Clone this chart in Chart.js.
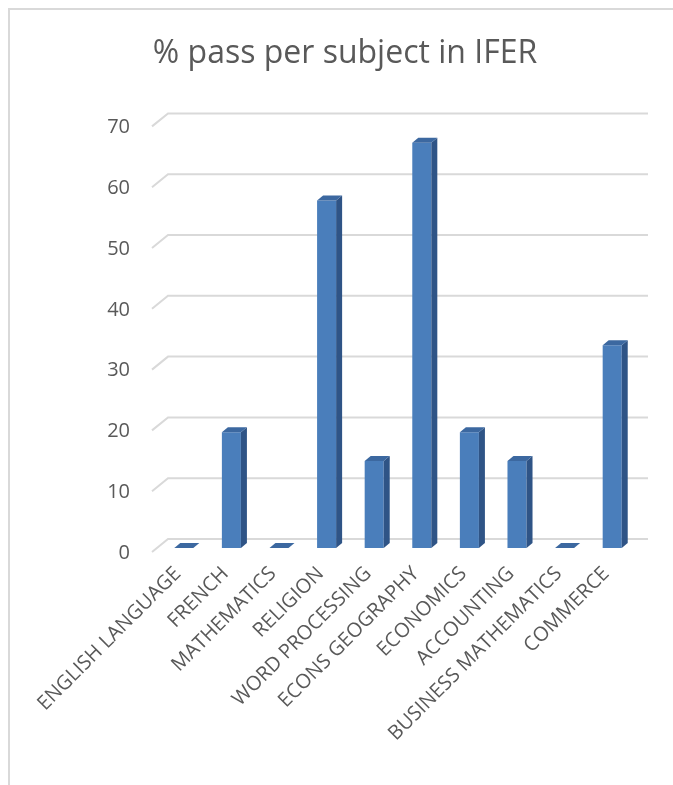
<!DOCTYPE html>
<html lang="en">
<head>
    <meta charset="UTF-8">
    <title>% pass per subject in IFER</title>
    <script src="https://cdn.jsdelivr.net/npm/chart.js"></script>
    <style>
        html, body { margin: 0; padding: 0; background: #fff; overflow: hidden; }
        #wrap { position: relative; width: 673px; height: 785px; }
        #frame {
            position: absolute; left: 8px; top: 8px; width: 800px; height: 900px;
            border-top: 2px solid #d9d9d9; border-left: 2px solid #d9d9d9;
        }
        canvas { position: absolute; left: 0; top: 0; }
    </style>
</head>
<body>
<div id="wrap">
    <div id="frame"></div>
    <canvas id="passChart" width="673" height="785"></canvas>
</div>

<script>
    // subjects and % pass
    const subjects = ['ENGLISH LANGUAGE', 'FRENCH', 'MATHEMATICS', 'RELIGION', 'WORD PROCESSING',
        'ECONS GEOGRAPHY', 'ECONOMICS', 'ACCOUNTING', 'BUSINESS MATHEMATICS', 'COMMERCE'];
    const passRate = [0, 19.05, 0, 57.14, 14.29, 66.67, 19.05, 14.29, 0, 33.33];
    const yTicks = [0, 10, 20, 30, 40, 50, 60, 70];

    const textGrey = '#595959';
    const fontName = '"Open Sans", "Noto Sans", sans-serif';

    // fake excel 3D : back wall gridlines with a little slanted floor edge
    const wallGrid = {
        id: 'wallGrid',
        beforeDatasetsDraw(chart) {
            const { ctx, chartArea, scales } = chart;
            ctx.save();
            ctx.strokeStyle = '#d9d9d9';
            ctx.lineWidth = 2;
            yTicks.forEach(v => {
                const y = scales.y.getPixelForValue(v);
                ctx.beginPath();
                ctx.moveTo(chartArea.left - 8, y + 4);
                ctx.lineTo(chartArea.left + 8, y - 9);
                ctx.lineTo(chartArea.right + 12, y - 9);
                ctx.stroke();
            });
            ctx.restore();
        }
    };

    // side + top faces for every bar
    const barDepth = {
        id: 'barDepth',
        afterDatasetsDraw(chart) {
            const { ctx } = chart;
            const dx = 6, dy = -5;
            ctx.save();
            chart.getDatasetMeta(0).data.forEach(bar => {
                const l = bar.x - bar.width / 2, r = bar.x + bar.width / 2;
                const top = bar.y, base = bar.base;
                // side
                ctx.fillStyle = '#2f5486';
                ctx.beginPath();
                ctx.moveTo(r, top);
                ctx.lineTo(r + dx, top + dy);
                ctx.lineTo(r + dx, base + dy);
                ctx.lineTo(r, base);
                ctx.closePath();
                ctx.fill();
                // top
                ctx.fillStyle = '#3c68a0';
                ctx.beginPath();
                ctx.moveTo(l, top);
                ctx.lineTo(l + dx, top + dy);
                ctx.lineTo(r + dx, top + dy);
                ctx.lineTo(r, top);
                ctx.closePath();
                ctx.fill();
            });
            ctx.restore();
        }
    };

    new Chart(document.getElementById('passChart').getContext('2d'), {
        type: 'bar',
        data: {
            labels: subjects,
            datasets: [{
                label: '% pass',
                data: passRate,
                backgroundColor: '#4a7ebb',
                borderWidth: 0,
                categoryPercentage: 1,
                barPercentage: 0.4
            }]
        },
        options: {
            responsive: false,
            devicePixelRatio: 1,
            animation: false,
            layout: { padding: { left: 17, right: 0, top: 0, bottom: 0 } },
            plugins: {
                legend: { display: false },
                tooltip: { enabled: false },
                title: {
                    display: true,
                    text: '% pass per subject in IFER',
                    color: textGrey,
                    font: { family: fontName, size: 32, weight: 'normal' },
                    padding: { top: 35, bottom: 49 }
                }
            },
            scales: {
                x: {
                    grid: { display: false, drawTicks: false },
                    border: { display: false },
                    ticks: {
                        color: textGrey,
                        font: { family: fontName, size: 20 },
                        minRotation: 45,
                        maxRotation: 45,
                        autoSkip: false,
                        padding: 14,
                        labelOffset: -6
                    },
                    afterFit(scale) { scale.height = 237; }
                },
                y: {
                    min: 0,
                    max: 70,
                    grid: { display: false, drawTicks: false },
                    border: { display: false },
                    ticks: {
                        stepSize: 10,
                        color: textGrey,
                        font: { family: fontName, size: 20 },
                        padding: 30,
                        labelOffset: 5
                    },
                    afterFit(scale) { scale.width = 143; }
                },
                // empty right-hand axis, only keeps room at the right of the plot
                spare: {
                    type: 'linear',
                    position: 'right',
                    grid: { display: false, drawTicks: false },
                    border: { display: false },
                    ticks: { display: false },
                    afterFit(scale) { scale.width = 37; }
                }
            }
        },
        plugins: [wallGrid, barDepth]
    });
</script>
</body>
</html>
